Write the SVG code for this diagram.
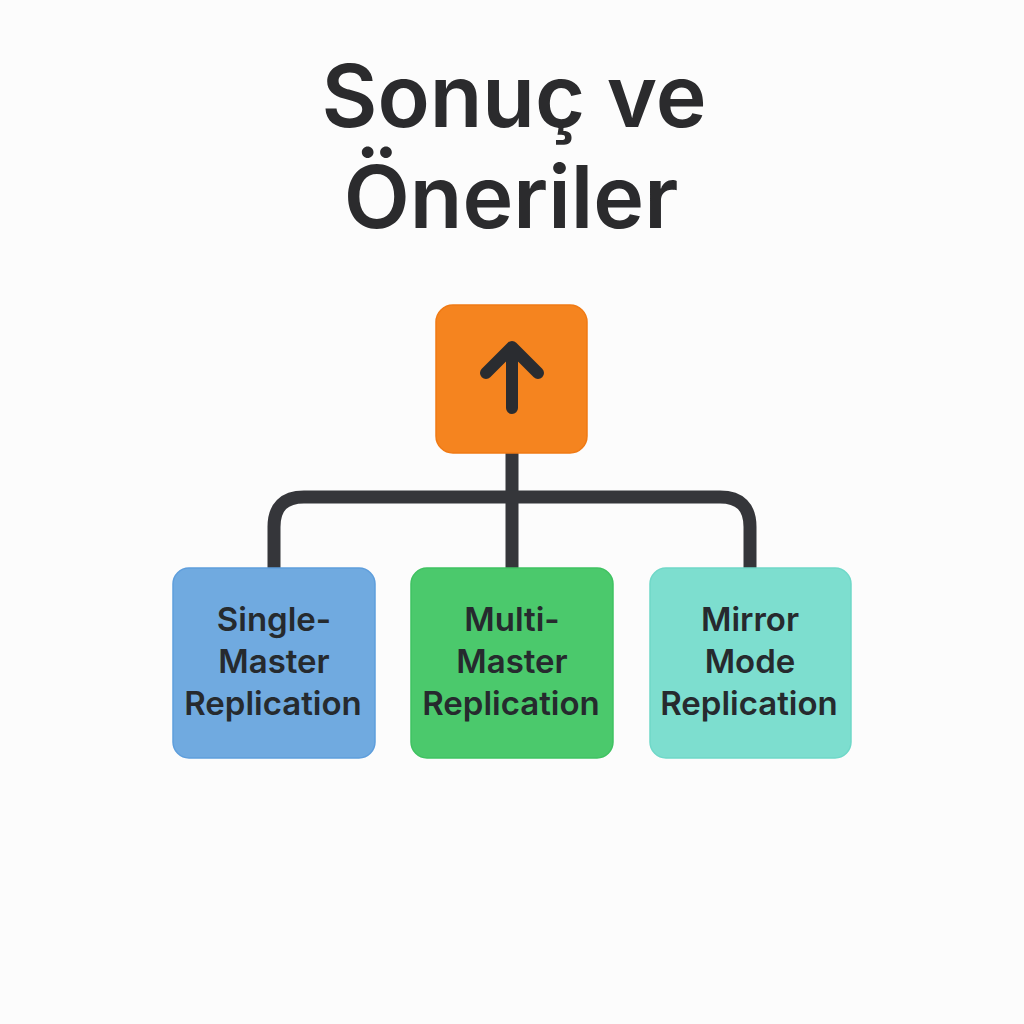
<svg xmlns="http://www.w3.org/2000/svg" width="1024" height="1024" viewBox="0 0 1024 1024">
<style>
.title{font-family:Inter,"Liberation Sans",sans-serif;font-weight:600;font-size:86px;fill:#2b2b2d;text-anchor:middle}
.lbl{font-family:Inter,"Liberation Sans",sans-serif;font-weight:600;font-size:33px;fill:#262a2e;text-anchor:middle}
.conn{fill:none;stroke:#35363a;stroke-width:13;stroke-linecap:butt;stroke-linejoin:round}
</style>
<rect width="1024" height="1024" fill="#fcfcfc"/>
<g id="title">
<text class="title" x="514" y="127">Sonuç ve</text>
<text class="title" x="511" y="228">Öneriler</text>
</g>
<g id="connectors">
<path class="conn" d="M512 453 V568"/>
<path class="conn" d="M274 568 V527 Q274 497 304 497 H720 Q750 497 750 527 V568"/>
</g>
<g id="top">
<rect x="436" y="305" width="151" height="148" rx="17" fill="#f5841f" stroke="#f07a14" stroke-width="1.5"/>
<path d="M512 408 V352 M486 373 L512 347 L538 373" fill="none" stroke="#2a2c30" stroke-width="12" stroke-linecap="round" stroke-linejoin="round"/>
</g>
<g id="single">
<rect x="173" y="568" width="202" height="190" rx="16" fill="#70aae0" stroke="#5e9edc" stroke-width="1.5"/>
<text class="lbl" x="274" y="631">Single-</text>
<text class="lbl" x="274" y="673">Master</text>
<text class="lbl" x="273" y="715">Replication</text>
</g>
<g id="multi">
<rect x="411" y="568" width="202" height="190" rx="16" fill="#4bc96c" stroke="#3fc261" stroke-width="1.5"/>
<text class="lbl" x="512" y="631">Multi-</text>
<text class="lbl" x="512" y="673">Master</text>
<text class="lbl" x="511" y="715">Replication</text>
</g>
<g id="mirror">
<rect x="650" y="568" width="201" height="190" rx="16" fill="#7ddecf" stroke="#6fd8c8" stroke-width="1.5"/>
<text class="lbl" x="750" y="631">Mirror</text>
<text class="lbl" x="750" y="673">Mode</text>
<text class="lbl" x="749" y="715">Replication</text>
</g>
</svg>
